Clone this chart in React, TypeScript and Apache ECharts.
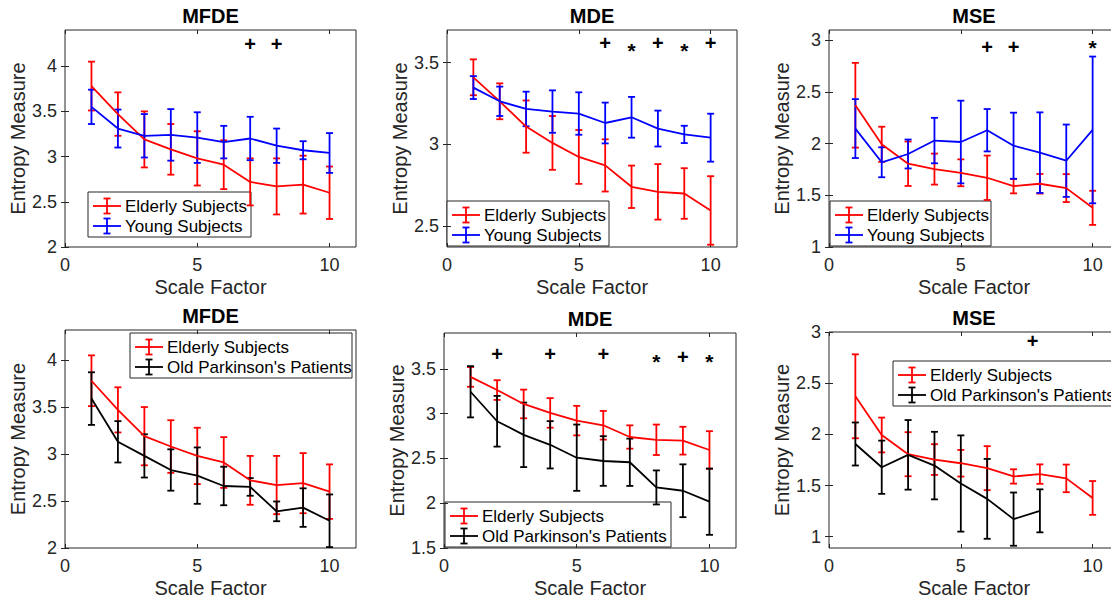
import React, { useEffect, useRef } from "react";
import * as echarts from "echarts";

// ---------------- data ----------------
const scaleFactors = [1, 2, 3, 4, 5, 6, 7, 8, 9, 10];
const xTicks = [0, 5, 10];

// MFDE
const mfdeElderlyMean = [3.78, 3.47, 3.19, 3.08, 2.98, 2.91, 2.72, 2.67, 2.69, 2.6];
const mfdeElderlyErr = [0.27, 0.24, 0.31, 0.28, 0.3, 0.27, 0.26, 0.31, 0.32, 0.29];
const mfdeYoungMean = [3.55, 3.31, 3.23, 3.24, 3.21, 3.16, 3.2, 3.12, 3.07, 3.04];
const mfdeYoungErr = [0.19, 0.21, 0.24, 0.285, 0.28, 0.18, 0.24, 0.19, 0.1, 0.22];
const mfdeParkMean = [3.59, 3.13, 2.98, 2.83, 2.77, 2.66, 2.65, 2.39, 2.43, 2.29];
const mfdeParkErr = [0.28, 0.22, 0.23, 0.22, 0.3, 0.205, 0.094, 0.105, 0.205, 0.28];

// MDE
const mdeElderlyMean = [3.41, 3.263, 3.108, 3.008, 2.922, 2.87, 2.739, 2.708, 2.698, 2.594];
const mdeElderlyErr = [0.11, 0.11, 0.16, 0.165, 0.165, 0.16, 0.13, 0.17, 0.155, 0.21];
const mdeYoungMean = [3.347, 3.263, 3.216, 3.2, 3.188, 3.13, 3.165, 3.096, 3.06, 3.04];
const mdeYoungErr = [0.07, 0.09, 0.106, 0.13, 0.13, 0.125, 0.125, 0.11, 0.053, 0.147];
const mdeParkMean = [3.244, 2.915, 2.763, 2.652, 2.508, 2.471, 2.457, 2.176, 2.139, 2.017];
const mdeParkErr = [0.286, 0.283, 0.36, 0.264, 0.37, 0.277, 0.264, 0.19, 0.295, 0.37];

// MSE
const mseElderlyMean = [2.372, 1.994, 1.806, 1.754, 1.718, 1.67, 1.589, 1.612, 1.57, 1.379];
const mseElderlyErr = [0.41, 0.17, 0.215, 0.15, 0.13, 0.215, 0.07, 0.095, 0.135, 0.165];
const mseYoungMean = [2.146, 1.82, 1.9, 2.03, 2.016, 2.13, 1.98, 1.913, 1.835, 2.133];
const mseYoungErr = [0.285, 0.145, 0.14, 0.22, 0.4, 0.205, 0.32, 0.39, 0.35, 0.71];
const mseParkMean = [1.906, 1.679, 1.8, 1.695, 1.52, 1.37, 1.172, 1.253];
const mseParkErr = [0.21, 0.26, 0.34, 0.33, 0.47, 0.39, 0.26, 0.21];

// significance markers: [scale factor, entropy level, symbol]
const mfdeYoungMarks: [number, number, string][] = [[7, 4.25, "+"], [8, 4.25, "+"]];
const mdeYoungMarks: [number, number, string][] = [
  [6, 3.62, "+"], [7, 3.6, "*"], [8, 3.62, "+"], [9, 3.6, "*"], [10, 3.62, "+"],
];
const mseYoungMarks: [number, number, string][] = [[6, 2.935, "+"], [7, 2.935, "+"], [10, 2.97, "*"]];
const mfdeParkMarks: [number, number, string][] = [];
const mdeParkMarks: [number, number, string][] = [
  [2, 3.665, "+"], [4, 3.665, "+"], [6, 3.665, "+"], [8, 3.63, "*"], [9, 3.63, "+"], [10, 3.63, "*"],
];
const mseParkMarks: [number, number, string][] = [[7.72, 2.91, "+"]];

// y tick labels per panel
const yTicksMFDE = [2, 2.5, 3, 3.5, 4];
const yTicksMDE1 = [2.5, 3, 3.5];
const yTicksMSE = [1, 1.5, 2, 2.5, 3];
const yTicksMDE2 = [1.5, 2, 2.5, 3, 3.5];

const ELDERLY = "Elderly Subjects";
const YOUNG = "Young Subjects";
const PARK = "Old Parkinson's Patients";

// ---------------- styles / layout ----------------
const FONT = '"Liberation Sans", Arial, Helvetica, sans-serif';
const AXIS_COLOR = "#262626";
const RED = "#ff0000";
const BLUE = "#0000ff";
const BLACK = "#000000";

type Ser = { name: string; color: string; mean: number[]; err: number[] };
type Panel = {
  title: string;
  grid: { left: number; top: number; width: number; height: number };
  yMin: number;
  yMax: number;
  yTicks: number[];
  series: Ser[];
  marks: [number, number, string][];
  legend: { x: number; y: number; w: number };
};

const panels: Panel[] = [
  {
    title: "MFDE",
    grid: { left: 65, top: 30, width: 291, height: 217 },
    yMin: 2, yMax: 4.4, yTicks: yTicksMFDE,
    series: [
      { name: ELDERLY, color: RED, mean: mfdeElderlyMean, err: mfdeElderlyErr },
      { name: YOUNG, color: BLUE, mean: mfdeYoungMean, err: mfdeYoungErr },
    ],
    marks: mfdeYoungMarks,
    legend: { x: 88, y: 192, w: 163 },
  },
  {
    title: "MDE",
    grid: { left: 447, top: 30, width: 290, height: 217 },
    yMin: 2.37, yMax: 3.7, yTicks: yTicksMDE1,
    series: [
      { name: ELDERLY, color: RED, mean: mdeElderlyMean, err: mdeElderlyErr },
      { name: YOUNG, color: BLUE, mean: mdeYoungMean, err: mdeYoungErr },
    ],
    marks: mdeYoungMarks,
    legend: { x: 447, y: 201, w: 162 },
  },
  {
    title: "MSE",
    grid: { left: 829, top: 30, width: 290, height: 217 },
    yMin: 1, yMax: 3.1, yTicks: yTicksMSE,
    series: [
      { name: ELDERLY, color: RED, mean: mseElderlyMean, err: mseElderlyErr },
      { name: YOUNG, color: BLUE, mean: mseYoungMean, err: mseYoungErr },
    ],
    marks: mseYoungMarks,
    legend: { x: 830, y: 201, w: 161 },
  },
  {
    title: "MFDE",
    grid: { left: 65, top: 330, width: 291, height: 218 },
    yMin: 2, yMax: 4.32, yTicks: yTicksMFDE,
    series: [
      { name: ELDERLY, color: RED, mean: mfdeElderlyMean, err: mfdeElderlyErr },
      { name: PARK, color: BLACK, mean: mfdeParkMean, err: mfdeParkErr },
    ],
    marks: mfdeParkMarks,
    legend: { x: 130, y: 333, w: 222 },
  },
  {
    title: "MDE",
    grid: { left: 444, top: 333, width: 292, height: 215 },
    yMin: 1.5, yMax: 3.9, yTicks: yTicksMDE2,
    series: [
      { name: ELDERLY, color: RED, mean: mdeElderlyMean, err: mdeElderlyErr },
      { name: PARK, color: BLACK, mean: mdeParkMean, err: mdeParkErr },
    ],
    marks: mdeParkMarks,
    legend: { x: 445, y: 502, w: 226 },
  },
  {
    title: "MSE",
    grid: { left: 829, top: 332, width: 290, height: 216 },
    yMin: 0.89, yMax: 3.0, yTicks: yTicksMSE,
    series: [
      { name: ELDERLY, color: RED, mean: mseElderlyMean, err: mseElderlyErr },
      { name: PARK, color: BLACK, mean: mseParkMean, err: mseParkErr },
    ],
    marks: mseParkMarks,
    legend: { x: 893, y: 361, w: 225 },
  },
];

const LW = 1.8;
const CAP = 3.5;
const CANVAS_W = 1130; // wider than the window; the right column is cut by the frame, as in the reference

function buildOption() {
  const grids: any[] = [];
  const xAxes: any[] = [];
  const yAxes: any[] = [];
  const series: any[] = [];
  const graphics: any[] = [];

  panels.forEach((p, i) => {
    grids.push({
      ...p.grid,
      show: true,
      borderColor: AXIS_COLOR,
      borderWidth: 1,
      backgroundColor: "#ffffff",
      containLabel: false,
    });
    const tickStyle = { show: true, inside: true, length: 4, lineStyle: { color: AXIS_COLOR, width: 1 } };
    xAxes.push({
      type: "value", gridIndex: i, position: "bottom", min: 0, max: 11,
      axisLine: { show: false }, splitLine: { show: false },
      axisTick: { ...tickStyle, customValues: xTicks },
      axisLabel: {
        customValues: xTicks, margin: 9, fontSize: 18, color: AXIS_COLOR, fontFamily: FONT,
        formatter: (v: number) => String(v),
      },
      name: "Scale Factor", nameLocation: "middle", nameGap: 30,
      nameTextStyle: { fontSize: 20, color: AXIS_COLOR, fontFamily: FONT },
    });
    xAxes.push({
      type: "value", gridIndex: i, position: "top", min: 0, max: 11,
      axisLine: { show: false }, splitLine: { show: false },
      axisTick: { ...tickStyle, customValues: xTicks },
      axisLabel: { show: false },
    });
    yAxes.push({
      type: "value", gridIndex: i, position: "left", min: p.yMin, max: p.yMax,
      axisLine: { show: false }, splitLine: { show: false },
      axisTick: { ...tickStyle, customValues: p.yTicks },
      axisLabel: {
        customValues: p.yTicks, margin: 8, fontSize: 18, color: AXIS_COLOR, fontFamily: FONT,
        formatter: (v: number) => String(v),
      },
      name: "Entropy Measure", nameLocation: "middle", nameGap: 36,
      nameTextStyle: { fontSize: 20, color: AXIS_COLOR, fontFamily: FONT },
    });
    yAxes.push({
      type: "value", gridIndex: i, position: "right", min: p.yMin, max: p.yMax,
      axisLine: { show: false }, splitLine: { show: false },
      axisTick: { ...tickStyle, customValues: p.yTicks },
      axisLabel: { show: false },
    });

    p.series.forEach((s) => {
      const errData = s.mean.map((m, k) => [scaleFactors[k], m, s.err[k]]);
      series.push({
        type: "custom",
        name: s.name,
        xAxisIndex: 2 * i,
        yAxisIndex: 2 * i,
        clip: true,
        z: 3,
        data: errData,
        encode: { x: 0, y: 1 },
        renderItem: (_params: any, api: any) => {
          const x = api.value(0);
          const m = api.value(1);
          const e = api.value(2);
          const top = api.coord([x, m + e]);
          const bot = api.coord([x, m - e]);
          const style = { stroke: s.color, lineWidth: LW };
          return {
            type: "group",
            children: [
              { type: "line", shape: { x1: top[0], y1: top[1], x2: bot[0], y2: bot[1] }, style },
              { type: "line", shape: { x1: top[0] - CAP, y1: top[1], x2: top[0] + CAP, y2: top[1] }, style },
              { type: "line", shape: { x1: bot[0] - CAP, y1: bot[1], x2: bot[0] + CAP, y2: bot[1] }, style },
            ],
          };
        },
      });
      series.push({
        type: "line",
        name: s.name,
        xAxisIndex: 2 * i,
        yAxisIndex: 2 * i,
        z: 3,
        data: s.mean.map((m, k) => [scaleFactors[k], m]),
        symbol: "none",
        lineStyle: { color: s.color, width: LW },
        itemStyle: { color: s.color },
      });
    });

    const marks = p.marks;
    if (marks.length) {
      series.push({
        type: "custom",
        name: "marks" + i,
        xAxisIndex: 2 * i,
        yAxisIndex: 2 * i,
        z: 4,
        data: marks.map((m) => [m[0], m[1]]),
        encode: { x: 0, y: 1 },
        renderItem: (params: any, api: any) => {
          const mk = marks[params.dataIndex];
          const c = api.coord([mk[0], mk[1]]);
          const isStar = mk[2] === "*";
          return {
            type: "text",
            x: c[0],
            y: c[1] + (isStar ? 4 : 0),
            style: {
              text: mk[2],
              fill: "#000",
              font: `bold ${isStar ? 21 : 20}px ${FONT}`,
              align: "center",
              verticalAlign: "middle",
            },
          };
        },
      });
    }

    // title
    graphics.push({
      type: "text",
      x: p.grid.left + p.grid.width / 2,
      y: p.grid.top - 14,
      z: 100,
      style: {
        text: p.title,
        fill: "#000",
        font: `bold 20px ${FONT}`,
        align: "center",
        verticalAlign: "middle",
      },
    });

    // legend
    const L = p.legend;
    const children: any[] = [
      {
        type: "rect",
        shape: { x: L.x, y: L.y, width: L.w, height: 45 },
        style: { fill: "#ffffff", stroke: AXIS_COLOR, lineWidth: 1 },
      },
    ];
    p.series.forEach((s, r) => {
      const cy = L.y + 14 + r * 20;
      const st = { stroke: s.color, lineWidth: LW };
      const bx = L.x + 19;
      children.push(
        { type: "line", shape: { x1: L.x + 5, y1: cy, x2: L.x + 33, y2: cy }, style: st },
        { type: "line", shape: { x1: bx, y1: cy - 7.5, x2: bx, y2: cy + 7.5 }, style: st },
        { type: "line", shape: { x1: bx - CAP, y1: cy - 7.5, x2: bx + CAP, y2: cy - 7.5 }, style: st },
        { type: "line", shape: { x1: bx - CAP, y1: cy + 7.5, x2: bx + CAP, y2: cy + 7.5 }, style: st },
        {
          type: "text",
          x: L.x + 37,
          y: cy,
          style: { text: s.name, fill: "#000", font: `17px ${FONT}`, align: "left", verticalAlign: "middle" },
        }
      );
    });
    graphics.push({ type: "group", z: 100, children });
  });

  return {
    animation: false,
    backgroundColor: "#ffffff",
    grid: grids,
    xAxis: xAxes,
    yAxis: yAxes,
    series,
    graphic: { elements: graphics },
  };
}

export default function App() {
  const ref = useRef<HTMLDivElement>(null);
  useEffect(() => {
    if (!ref.current) return;
    const chart = echarts.init(ref.current, undefined, { renderer: "svg" });
    chart.setOption(buildOption() as any);
    return () => chart.dispose();
  }, []);
  return (
    <div
      style={{
        position: "absolute",
        left: 0,
        top: 0,
        width: 1111,
        height: 602,
        overflow: "hidden",
        background: "#fff",
      }}
    >
      <div ref={ref} style={{ width: CANVAS_W, height: 602 }} />
    </div>
  );
}
